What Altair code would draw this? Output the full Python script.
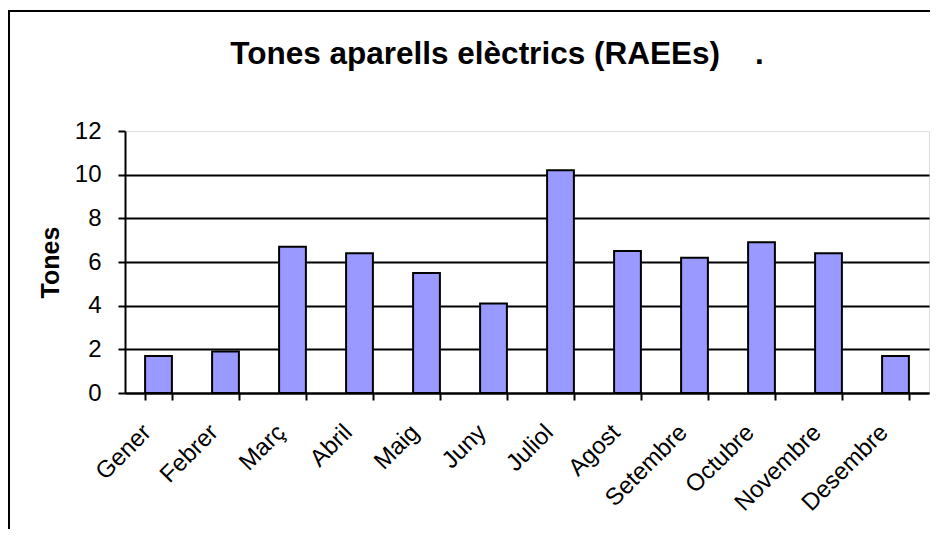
import altair as alt
import pandas as pd

months = ["Gener", "Febrer", "Març", "Abril", "Maig", "Juny", "Juliol",
          "Agost", "Setembre", "Octubre", "Novembre", "Desembre"]
tones = [1.7, 1.9, 6.7, 6.4, 5.5, 4.1, 10.2, 6.5, 6.2, 6.9, 6.4, 1.7]
y_ticks = [0, 2, 4, 6, 8, 10, 12]

df = pd.DataFrame({"Mes": months, "Tones": tones})

FONT = "Liberation Sans"
W, H = 804, 262

bars = alt.Chart(df).mark_bar(
    color="#9999FF", stroke="black", strokeWidth=2
).encode(
    x=alt.X("Mes:N", sort=months, title=None,
            scale=alt.Scale(paddingInner=0.6, paddingOuter=0.3),
            axis=alt.Axis(labelAngle=-45, labelFont=FONT, labelFontSize=24,
                          labelColor="black", tickBand="extent", tickSize=7,
                          tickColor="black", tickWidth=2, domainColor="black",
                          domainWidth=2, labelPadding=20, labelOffset=-20,
                          grid=False)),
    y=alt.Y("Tones:Q", title="Tones",
            scale=alt.Scale(domain=[0, 12], nice=False),
            axis=alt.Axis(values=y_ticks, labelFont=FONT, labelFontSize=24,
                          labelColor="black", tickSize=7, tickColor="black",
                          tickWidth=2, domainColor="black", domainWidth=2,
                          labelPadding=17, grid=True, gridColor="black",
                          gridWidth=2,
                          gridOpacity={"expr": "datum.value >= 12 ? 0 : 1"},
                          titleFont=FONT, titleFontSize=25,
                          titleFontWeight="bold", titleColor="black",
                          titlePadding=11)),
)

frame_top = alt.Chart(df).mark_rule(color="black", strokeWidth=2).encode(
    x=alt.value(-117), x2=alt.value(W + 10), y=alt.value(-120)
)
frame_left = alt.Chart(df).mark_rule(color="black", strokeWidth=2).encode(
    x=alt.value(-116), y=alt.value(-120), y2=alt.value(H + 140)
)

chart = alt.layer(bars, frame_top, frame_left).properties(
    width=W, height=H,
    autosize=alt.AutoSizeParams(type="none"),
    padding={"left": 117, "top": 123, "right": 1, "bottom": 136},
    title=alt.TitleParams(
        text="Tones aparells elèctrics (RAEEs)\u00a0\u00a0\u00a0\u00a0.",
        font=FONT, fontSize=31.5, fontWeight="bold", color="black",
        anchor="middle", frame="group", dx=-30, offset=-85,
        baseline="alphabetic"),
).configure_view(stroke=None).configure(background="white")

chart.save("out.html", embed_options={"renderer": "svg", "actions": False})
